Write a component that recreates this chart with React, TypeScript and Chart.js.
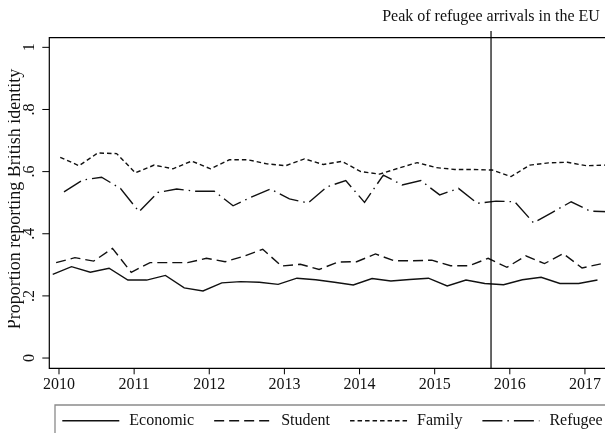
import React, { useEffect, useRef } from "react";
import { Chart, registerables } from "chart.js";

Chart.register(...registerables);

// ---------- data ----------
const quarters = [
  "2010Q1", "2010Q2", "2010Q3", "2010Q4",
  "2011Q1", "2011Q2", "2011Q3", "2011Q4",
  "2012Q1", "2012Q2", "2012Q3", "2012Q4",
  "2013Q1", "2013Q2", "2013Q3", "2013Q4",
  "2014Q1", "2014Q2", "2014Q3", "2014Q4",
  "2015Q1", "2015Q2", "2015Q3", "2015Q4",
  "2016Q1", "2016Q2", "2016Q3", "2016Q4",
  "2017Q1", "2017Q2",
];

const economic = [
  0.269, 0.294, 0.276, 0.289, 0.251, 0.251, 0.266, 0.226, 0.216, 0.242,
  0.246, 0.244, 0.237, 0.257, 0.252, 0.244, 0.235, 0.256, 0.248, 0.253,
  0.257, 0.232, 0.251, 0.240, 0.236, 0.252, 0.260, 0.240, 0.240, 0.251,
];
const student = [
  0.307, 0.323, 0.312, 0.353, 0.276, 0.307, 0.307, 0.307, 0.321, 0.310,
  0.328, 0.350, 0.296, 0.302, 0.285, 0.309, 0.310, 0.335, 0.313, 0.313,
  0.315, 0.297, 0.297, 0.321, 0.292, 0.329, 0.304, 0.336, 0.290, 0.303,
];
const family = [
  0.646, 0.619, 0.660, 0.658, 0.596, 0.621, 0.609, 0.634, 0.609, 0.638,
  0.638, 0.625, 0.619, 0.641, 0.623, 0.633, 0.600, 0.592, 0.611, 0.629,
  0.613, 0.607, 0.607, 0.605, 0.584, 0.621, 0.628, 0.630, 0.619, 0.621,
];
const refugee = [
  0.535, 0.573, 0.582, 0.546, 0.471, 0.533, 0.544, 0.537, 0.537, 0.490,
  0.519, 0.544, 0.512, 0.499, 0.551, 0.571, 0.501, 0.589, 0.557, 0.571,
  0.525, 0.546, 0.498, 0.505, 0.503, 0.435, 0.469, 0.503, 0.473, 0.471,
];

const seriesNames = ["Economic", "Student", "Family", "Refugee"];
const seriesValues = [economic, student, family, refugee];
// small within-quarter placement of each series (years)
const seriesShift = [0, 0.045, 0.1, 0.15];

const xTicks = [2010, 2011, 2012, 2013, 2014, 2015, 2016, 2017];
const yTicks = [0, 0.2, 0.4, 0.6, 0.8, 1];
const yTickLabels = ["0", ".2", ".4", ".6", ".8", "1"];
const peakDate = 2015.75;
const peakLabel = "Peak of refugee arrivals in the EU";
const yTitle = "Proportion reporting British identity";

// ---------- style ----------
const X_MIN = 2009.871;
const X_MAX = 2017.573;
const Y_MIN = -0.033;
const Y_MAX = 1.031;
const FONT = "'Liberation Serif', 'Times New Roman', serif";
const LINE = "#111";
const dashes: number[][] = [[], [10, 5], [4.5, 3], [20, 5, 1.5, 5]];

function qToYear(q: string): number {
  const y = Number(q.slice(0, 4));
  const n = Number(q.slice(5));
  return y + (n - 1) / 4 - 1 / 12;
}

const decor = {
  id: "stataDecor",
  afterDatasetsDraw(chart: any) {
    const ctx: CanvasRenderingContext2D = chart.ctx;
    const { left, right, top, bottom } = chart.chartArea;
    const xs = chart.scales.x;
    const ys = chart.scales.y;
    ctx.save();
    ctx.strokeStyle = "#000";
    ctx.lineWidth = 1.2;
    ctx.setLineDash([]);

    // frame (right side lies outside the cropped view)
    ctx.beginPath();
    ctx.moveTo(right + 10, top);
    ctx.lineTo(left, top);
    ctx.lineTo(left, bottom);
    ctx.lineTo(right + 10, bottom);
    ctx.stroke();

    // peak line
    const px = xs.getPixelForValue(peakDate);
    ctx.beginPath();
    ctx.moveTo(px, top - 6.7);
    ctx.lineTo(px, bottom);
    ctx.stroke();

    ctx.fillStyle = "#111";
    ctx.font = `16px ${FONT}`;
    ctx.textAlign = "center";
    ctx.textBaseline = "middle";
    ctx.fillText(peakLabel, px, 8.7);

    // x ticks
    ctx.lineWidth = 1;
    xTicks.forEach((v) => {
      const x = xs.getPixelForValue(v);
      ctx.beginPath();
      ctx.moveTo(x, bottom);
      ctx.lineTo(x, bottom + 6);
      ctx.stroke();
      ctx.fillText(String(v), x, 377);
    });

    // y ticks
    yTicks.forEach((v, i) => {
      const y = ys.getPixelForValue(v);
      ctx.beginPath();
      ctx.moveTo(left - 7, y);
      ctx.lineTo(left, y);
      ctx.stroke();
      ctx.save();
      ctx.translate(21.3, y);
      ctx.rotate(-Math.PI / 2);
      ctx.fillText(yTickLabels[i], 0, 0);
      ctx.restore();
    });

    // y title
    ctx.save();
    ctx.font = `18px ${FONT}`;
    ctx.translate(7.5, (top + bottom) / 2 - 4);
    ctx.rotate(-Math.PI / 2);
    ctx.fillText(yTitle, 0, 0);
    ctx.restore();

    // legend
    const boxL = 47;
    const boxT = 397;
    ctx.strokeStyle = "#8a8a8a";
    ctx.lineWidth = 1.3;
    ctx.beginPath();
    ctx.moveTo(boxL, boxT + 60);
    ctx.lineTo(boxL, boxT);
    ctx.lineTo(chart.width + 10, boxT);
    ctx.stroke();

    const ly = 412.7;
    let cx = 54.3;
    ctx.textAlign = "left";
    ctx.font = `16px ${FONT}`;
    seriesNames.forEach((name, i) => {
      ctx.strokeStyle = LINE;
      ctx.lineWidth = 1.4;
      ctx.setLineDash(dashes[i]);
      ctx.beginPath();
      ctx.moveTo(cx, ly);
      ctx.lineTo(cx + 57, ly);
      ctx.stroke();
      ctx.setLineDash([]);
      cx += 57 + 10;
      ctx.fillText(name, cx, ly);
      cx += ctx.measureText(name).width + 20;
    });

    ctx.restore();
  },
};

export default function App() {
  const ref = useRef<HTMLCanvasElement | null>(null);

  useEffect(() => {
    if (!ref.current) return;
    const datasets = seriesNames.map((name, i) => ({
      label: name,
      data: quarters.map((q, k) => ({ x: qToYear(q) + seriesShift[i], y: seriesValues[i][k] })),
      borderColor: LINE,
      backgroundColor: LINE,
      borderWidth: 1.4,
      borderDash: dashes[i],
      pointRadius: 0,
      tension: 0,
      fill: false,
    }));
    const chart = new Chart(ref.current, {
      type: "line",
      data: { datasets } as any,
      options: {
        animation: false,
        responsive: false,
        devicePixelRatio: 1,
        events: [],
        layout: { padding: { left: 41.3, top: 29.7, right: 0, bottom: 64.7 } },
        plugins: {
          legend: { display: false },
          tooltip: { enabled: false },
          title: { display: false },
        },
        scales: {
          x: { type: "linear", display: false, min: X_MIN, max: X_MAX },
          y: { type: "linear", display: false, min: Y_MIN, max: Y_MAX },
        },
      } as any,
      plugins: [decor],
    });
    return () => chart.destroy();
  }, []);

  return (
    <div
      style={{
        position: "fixed",
        left: 0,
        top: 0,
        width: 605,
        height: 433,
        overflow: "hidden",
        background: "#fff",
      }}
    >
      <canvas
        ref={ref}
        width={620}
        height={425}
        style={{ position: "absolute", left: 8, top: 8, display: "block", width: 620, height: 425 }}
      />
    </div>
  );
}
